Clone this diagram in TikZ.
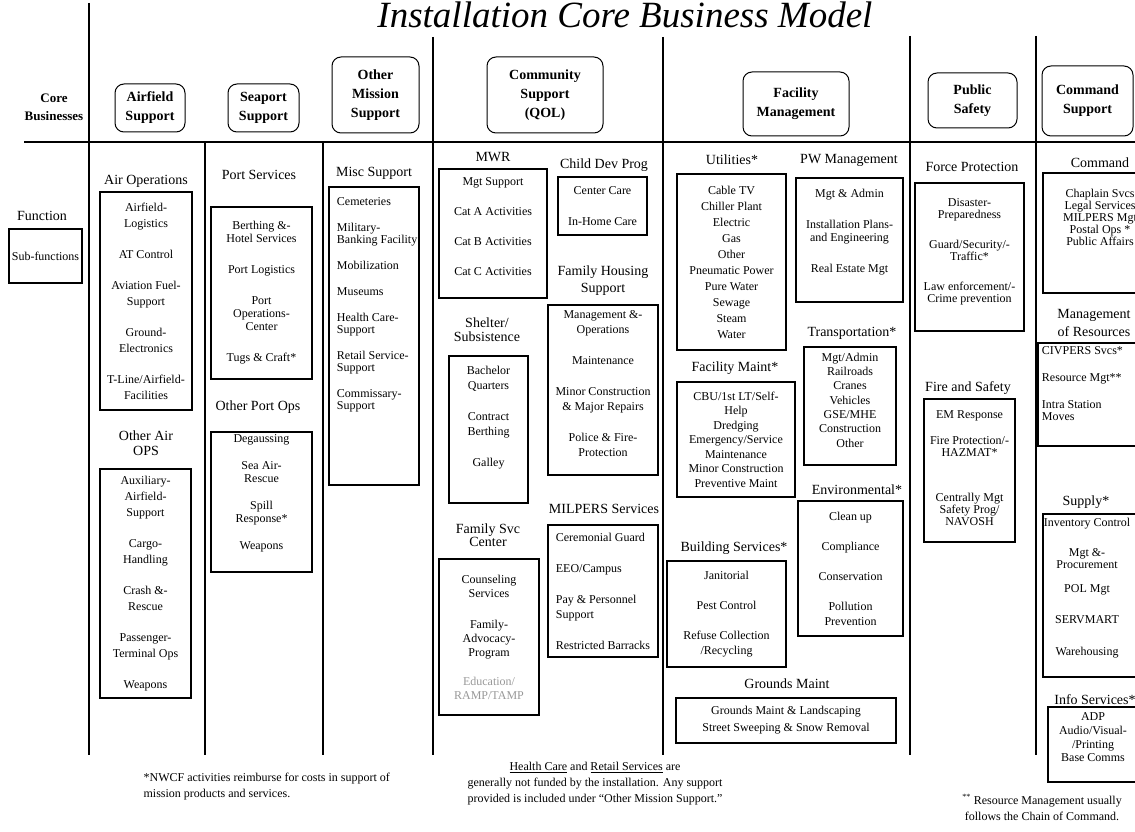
\documentclass[tikz,border=0pt]{standalone}
\usepackage{fontspec}
\setmainfont{Liberation Serif}
\usetikzlibrary{positioning}

\begin{document}
\begin{tikzpicture}[x=1pt, y=-1pt, line width=1.2pt,
    hdr/.style={draw, line width=1pt, rounded corners=9pt, align=center, inner sep=2pt, font=\bfseries\fontsize{14}{19}\selectfont},
    lbl/.style={align=center, inner sep=0pt, font=\fontsize{14}{#1}\selectfont}, lbl/.default=16,
    box/.style={draw, line width=1.3pt, inner sep=0pt},
    itm/.style={align=center, inner sep=0pt, font=\fontsize{12}{#1}\selectfont}, itm/.default=14,
    note/.style={inner sep=0pt, font=\fontsize{12}{16}\selectfont}]
    \useasboundingbox (0,0) rectangle (1135,832);
    \clip (0,0) rectangle (1135,832);
    \fill[white] (0,0) rectangle (1135,832);

    % title and core businesses
    \node[font=\itshape\fontsize{37}{40}\selectfont, anchor=base] (title) at (625,28) {Installation Core Business Model};
    \node[font=\bfseries\fontsize{13}{18}\selectfont, align=center] (core) at (54,107) {Core\\Businesses};
    \node[hdr, minimum width=70pt, minimum height=48pt] (airfield) at (150,108) {Airfield\\Support};
    \node[hdr, minimum width=71pt, minimum height=48pt] (seaport) at (263.5,108) {Seaport\\Support};
    \node[hdr, minimum width=87pt, minimum height=76pt] (othermsn) at (375.5,95) {Other\\Mission\\Support};
    \node[hdr, minimum width=116pt, minimum height=76pt] (community) at (545,95) {Community\\Support\\(QOL)};
    \node[hdr, minimum width=106pt, minimum height=64pt] (facility) at (796,104) {Facility\\Management};
    \node[hdr, minimum width=89pt, minimum height=55pt] (pubsafety) at (972.5,100.5) {Public\\Safety};
    \node[hdr, minimum width=91pt, minimum height=70pt] (cmdsupport) at (1087.5,101) {Command\\Support};

    % grid
    \coordinate (rowl) at (24,142);
    \coordinate (rowr) at (1135,142);
    \draw (rowl) -- (rowr);
    \coordinate (col0t) at (89,3);     \coordinate (col0b) at (89,755);
    \coordinate (col1t) at (205,142);  \coordinate (col1b) at (205,755);
    \coordinate (col2t) at (323,142);  \coordinate (col2b) at (323,755);
    \coordinate (col3t) at (433,37);   \coordinate (col3b) at (433,755);
    \coordinate (col4t) at (663,37);   \coordinate (col4b) at (663,755);
    \coordinate (col5t) at (910,36);   \coordinate (col5b) at (910,755);
    \coordinate (col6t) at (1036,36);  \coordinate (col6b) at (1036,755);
    \draw (col0t) -- (col0b);
    \draw (col1t) -- (col1b);
    \draw (col2t) -- (col2b);
    \draw (col3t) -- (col3b);
    \draw (col4t) -- (col4b);
    \draw (col5t) -- (col5b);
    \draw (col6t) -- (col6b);

    % legend
    \node[lbl] (function) at (42,216) {Function};
    \node[box, itm, minimum width=73pt, minimum height=54pt] (subfn) at (45.5,256) {Sub-functions};

    % airfield support
    \node[lbl] (airopslbl) at (146,181) {Air Operations};
    \node[box, itm=16, minimum width=92pt, minimum height=218pt] (airops) at (146,301) {Airfield-\\Logistics\\[15pt]AT Control\\[15pt]Aviation Fuel-\\Support\\[15pt]Ground-\\Electronics\\[15pt]T-Line/Airfield-\\Facilities};
    \node[lbl=15] (otherairlbl) at (146,443.5) {Other Air\\OPS};
    \node[box, itm=16, minimum width=91pt, minimum height=229pt] (otherair) at (145.5,583.5) {Auxiliary-\\Airfield-\\Support\\[15pt]Cargo-\\Handling\\[15pt]Crash \&-\\Rescue\\[15pt]Passenger-\\Terminal Ops\\[15pt]Weapons};

    % seaport support
    \node[lbl] (portsvclbl) at (259,175) {Port Services};
    \node[box, itm=13, minimum width=101pt, minimum height=172pt] (portsvc) at (261.5,293) {Berthing \&-\\Hotel Services\\[18pt]Port Logistics\\[18pt]Port\\Operations-\\Center\\[18pt]Tugs \& Craft*};
    \node[lbl] (otherportlbl) at (258,407) {Other Port Ops};
    \node[box, minimum width=101pt, minimum height=140pt] (otherport) at (261.5,502) {};
    \node[itm=13, below=3pt of otherport.north] (otherporttx) {Degaussing\\[14pt]Sea Air-\\Rescue\\[14pt]Spill\\Response*\\[14pt]Weapons};

    % other mission support
    \node[lbl] (misclbl) at (374,173) {Misc Support};
    \node[box, minimum width=90pt, minimum height=298pt] (misc) at (374,336) {};
    \node[itm=12, align=left, below right=11pt and 8pt of misc.north west] (misctx) {Cemeteries\\[14pt]Military-\\Banking Facility\\[14pt]Mobilization\\[14pt]Museums\\[14pt]Health Care-\\Support\\[14pt]Retail Service-\\Support\\[14pt]Commissary-\\Support};

    % community support
    \node[lbl] (mwrlbl) at (493,157) {MWR};
    \node[box, minimum width=108pt, minimum height=129pt] (mwr) at (493,233.5) {};
    \node[itm, below=9pt of mwr.north] (mwrtx) {Mgt Support\\[16pt]Cat A Activities\\[16pt]Cat B Activities\\[16pt]Cat C Activities};
    \node[lbl] (childdevlbl) at (604,165) {Child Dev Prog};
    \node[box, itm, minimum width=89pt, minimum height=58pt] (childdev) at (602.5,206) {Center Care\\[17pt]In-Home Care};
    \node[lbl=17] (famhouselbl) at (603,280.5) {Family Housing\\Support};
    \node[box, minimum width=110pt, minimum height=170pt] (famhouse) at (603,390) {};
    \node[itm=15, below=6pt of famhouse.north] (famhousetx) {Management \&-\\Operations\\[16pt]Maintenance\\[16pt]Minor Construction\\\& Major Repairs\\[16pt]Police \& Fire-\\Protection};
    \node[lbl=14] (shelterlbl) at (487,330) {Shelter/\\Subsistence};
    \node[box, minimum width=79pt, minimum height=147pt] (shelter) at (488.5,429.5) {};
    \node[itm=15, below=10pt of shelter.north] (sheltertx) {Bachelor\\Quarters\\[16pt]Contract\\Berthing\\[16pt]Galley};
    \node[lbl] (milperslbl) at (604,509) {MILPERS Services};
    \node[box, itm=15, align=left, minimum width=110pt, minimum height=132pt] (milpers) at (603,591) {Ceremonial Guard\\[16pt]EEO/Campus\\[16pt]Pay \& Personnel\\Support\\[16pt]Restricted Barracks};
    \node[lbl=13] (famsvclbl) at (488,535.5) {Family Svc\\Center};
    \node[box, itm, minimum width=100pt, minimum height=156pt] (famsvc) at (489,637) {Counseling\\Services\\[17pt]Family-\\Advocacy-\\Program\\[15pt]\textcolor{black!40}{Education/}\\\textcolor{black!40}{RAMP/TAMP}};

    % facility management
    \node[lbl] (utilitieslbl) at (732,160) {Utilities*};
    \node[box, itm=16, minimum width=109pt, minimum height=176pt] (utilities) at (731.5,262) {Cable TV\\Chiller Plant\\Electric\\Gas\\Other\\Pneumatic Power\\Pure Water\\Sewage\\Steam\\Water};
    \node[lbl] (pwmgmtlbl) at (849,160) {PW Management};
    \node[box, minimum width=107pt, minimum height=124pt] (pwmgmt) at (849.5,240) {};
    \node[itm=13, below=11pt of pwmgmt.north] (pwmgmttx) {Mgt \& Admin\\[18pt]Installation Plans-\\and Engineering\\[18pt]Real Estate Mgt};
    \node[lbl] (transportlbl) at (852,333) {Transportation*};
    \node[box, minimum width=92pt, minimum height=118pt] (transport) at (850,406) {};
    \node[itm=14.3, below=6pt of transport.north] (transporttx) {Mgt/Admin\\Railroads\\Cranes\\Vehicles\\GSE/MHE\\Construction\\Other};
    \node[lbl] (facmaintlbl) at (735,368) {Facility Maint*};
    \node[box, itm=14.5, minimum width=118pt, minimum height=115pt] (facmaint) at (736,439.5) {CBU/1st LT/Self-\\Help\\Dredging\\Emergency/Service\\Maintenance\\Minor Construction\\Preventive Maint};
    \node[lbl] (envlbl) at (857,490) {Environmental*};
    \node[box, itm=15, minimum width=105pt, minimum height=135pt] (env) at (850.5,568.5) {Clean up\\[15pt]Compliance\\[15pt]Conservation\\[15pt]Pollution\\Prevention};
    \node[lbl] (buildinglbl) at (734,548) {Building Services*};
    \node[box, itm=15, minimum width=119pt, minimum height=106pt] (building) at (726.5,614) {Janitorial\\[15pt]Pest Control\\[15pt]Refuse Collection\\/Recycling};
    \node[lbl] (groundslbl) at (787,684) {Grounds Maint};
    \node[box, itm=17, minimum width=220pt, minimum height=45pt] (grounds) at (786,720.5) {Grounds Maint \& Landscaping\\Street Sweeping \& Snow Removal};

    % public safety
    \node[lbl] (forceprotlbl) at (972,167) {Force Protection};
    \node[box, minimum width=109pt, minimum height=148pt] (forceprot) at (969.5,257) {};
    \node[itm=12, below=16pt of forceprot.north] (forceprottx) {Disaster-\\Preparedness\\[18pt]Guard/Security/-\\Traffic*\\[18pt]Law enforcement/-\\Crime prevention};
    \node[lbl] (firesafelbl) at (968,388) {Fire and Safety};
    \node[box, minimum width=91pt, minimum height=143pt] (firesafe) at (969.5,470.5) {};
    \node[itm=12, below=12pt of firesafe.north] (firesafetx) {EM Response\\[14pt]Fire Protection/-\\HAZMAT*\\[33pt]Centrally Mgt\\Safety Prog/\\NAVOSH};

    % command support
    \node[lbl] (commandlbl) at (1100,163) {Command};
    \node[box, minimum width=97pt, minimum height=120pt] (command) at (1091.5,233) {};
    \node[itm=12, below=16pt of command.north, xshift=8.5pt] (commandtx) {Chaplain Svcs\\Legal Services\\MILPERS Mgt\\Postal Ops *\\Public Affairs};
    \node[lbl=18] (mgmtreslbl) at (1094,323) {Management\\of Resources};
    \node[box, minimum width=102pt, minimum height=103pt] (mgmtres) at (1089,394.5) {};
    \node[itm=12, align=left, below right=4pt and 4pt of mgmtres.north west] (mgmtrestx) {CIVPERS Svcs*\\[15pt]Resource Mgt**\\[15pt]Intra Station\\Moves};
    \node[lbl] (supplylbl) at (1086,502) {Supply*};
    \node[box, minimum width=97pt, minimum height=163pt] (supply) at (1091.5,595.5) {};
    \node[itm=12, below=4pt of supply.north, xshift=-4.5pt] (supplytx) {Inventory Control\\[18pt]Mgt \&-\\Procurement\\[12pt]POL Mgt\\[19pt]SERVMART\\[20pt]Warehousing};
    \node[lbl] (infolbl) at (1095,700) {Info Services*};
    \node[box, minimum width=92pt, minimum height=75pt] (info) at (1094,744.5) {};
    \node[itm=13.7, below=6pt of info.north, xshift=-1pt] (infotx) {ADP\\Audio/Visual-\\/Printing\\Base Comms};

    % footnotes
    \node[note, align=left, anchor=north west] (nwcfnote) at (143,772) {*NWCF activities reimburse for costs in support of\\mission products and services.};
    \node[note, align=center, anchor=north] (fundnote) at (595,762) {\underline{Health Care} and \underline{Retail Services} are\\generally not funded by the installation. Any support\\provided is included under “Other Mission Support.”};
    \node[note, align=center, anchor=north] (chainnote) at (1042,794) {\textsuperscript{**} Resource Management usually\\follows the Chain of Command.};
\end{tikzpicture}
\end{document}
